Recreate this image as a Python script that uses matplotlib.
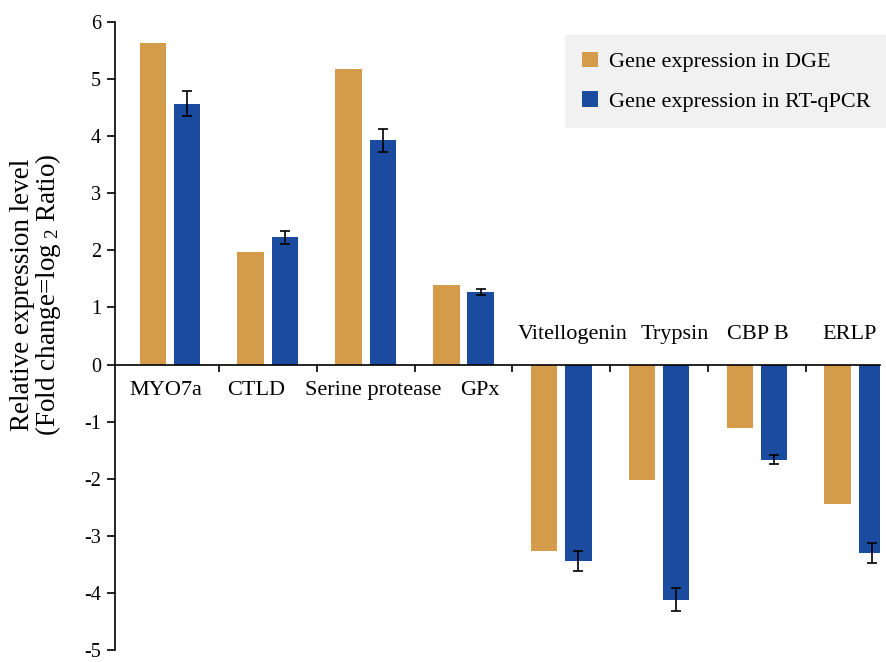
import matplotlib
matplotlib.use("Agg")
import matplotlib.pyplot as plt
import numpy as np

plt.rcParams['font.family'] = ['Liberation Serif', 'DejaVu Serif']
plt.rcParams['mathtext.fontset'] = 'custom'
plt.rcParams['mathtext.rm'] = 'Liberation Serif'
plt.rcParams['mathtext.it'] = 'Liberation Serif:italic'

categories = ["MYO7a", "CTLD", "Serine protease", "GPx",
              "Vitellogenin", "Trypsin", "CBP B", "ERLP"]
dge = [5.63, 1.97, 5.17, 1.39, -3.27, -2.03, -1.11, -2.45]
qpcr = [4.57, 2.23, 3.93, 1.27, -3.44, -4.12, -1.67, -3.30]
qpcr_err = [0.22, 0.11, 0.20, 0.05, 0.17, 0.20, 0.08, 0.17]
yticks = [-5, -4, -3, -2, -1, 0, 1, 2, 3, 4, 5, 6]

# layout: horizontal nudges of the category labels (in category units)
label_shift = [-0.04, -0.12, 0.08, 0.17, 0.12, 0.16, 0.01, -0.05]

orange = '#D49B4B'
blue = '#1A4B9F'

fig = plt.figure(figsize=(8.87, 6.62), dpi=100)
ax = fig.add_axes([0.1297, 0.0181, 0.8625, 0.9486])

x = np.arange(len(categories))
w = 0.27
off = 0.175
ax.bar(x - off, dge, width=w, color=orange, label='Gene expression in DGE', zorder=2)
ax.bar(x + off, qpcr, width=w, color=blue, label='Gene expression in RT-qPCR', zorder=2)
ax.errorbar(x + off, qpcr, yerr=qpcr_err, fmt='none', ecolor='black',
            elinewidth=1.2, capsize=3.6, capthick=1.2, zorder=3)

ax.set_xlim(-0.562, 7.26)
ax.set_ylim(-5, 6)
ax.set_yticks(yticks)
ax.set_yticklabels([str(v) for v in yticks], fontsize=14.5)
ax.tick_params(axis='y', direction='out', length=6, width=1.2, pad=4)

ax.spines['top'].set_visible(False)
ax.spines['right'].set_visible(False)
ax.spines['bottom'].set_position(('data', 0))
ax.spines['left'].set_linewidth(1.2)
ax.spines['bottom'].set_linewidth(1.2)
ax.set_xticks(x[:-1] + 0.5)
ax.set_xticklabels([])
ax.tick_params(axis='x', direction='out', length=5, width=1.2)

for i, name in enumerate(categories):
    ypos = -0.45 if dge[i] >= 0 else 0.53
    ax.text(x[i] + label_shift[i], ypos, name, ha='center', va='center', fontsize=16)

ax.set_ylabel("Relative expression level\n(Fold change=log$_{\\ 2}$ Ratio)",
              fontsize=19.5, linespacing=0.9)
ax.yaxis.set_label_coords(-0.068, 0.566)

leg = fig.legend(loc='upper right', bbox_to_anchor=(1.0, 0.947), fontsize=16,
                 frameon=True, fancybox=False, facecolor='#f1f1f1', edgecolor='none',
                 handlelength=0.7, handleheight=0.7, handletextpad=0.5,
                 labelspacing=0.85, borderpad=0.75, borderaxespad=0.0)
leg.get_frame().set_alpha(1)

fig.savefig('out.png', dpi=100)
